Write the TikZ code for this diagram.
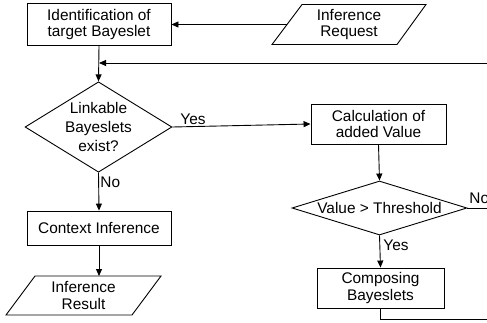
\documentclass[tikz,border=0pt]{standalone}
\usepackage{fontspec}
\setmainfont{Liberation Sans}
\usetikzlibrary{arrows.meta,shapes.geometric}
\begin{document}
\begin{tikzpicture}[x=1pt,y=-1pt,
  font=\fontsize{15.4}{16.7}\selectfont,
  line width=0.9pt,
  box/.style={draw, rectangle, align=center, inner sep=0pt},
  dia/.style={draw, diamond, align=center, inner sep=0pt},
  txt/.style={align=center, inner sep=0pt},
  arr/.style={-{Triangle[length=7pt,width=6pt]}},
  lbl/.style={inner sep=0pt, anchor=west}]
\clip (0,0) rectangle (487,322);
\fill[white] (0,0) rectangle (487,322);
% top row
\node[box, minimum width=144pt, minimum height=42pt] (ident) at (99,24.5) {Identification of\\target Bayeslet};
\node[txt] (req) at (349,24.5) {Inference\\Request};
\draw (302,4.5) -- (426,4.5) -- (397,44.5) -- (272,44.5) -- cycle;
\coordinate (reqin) at (287,24.5);
\draw[arr] (reqin) -- (ident.east);
% feedback line
\coordinate (fbR) at (495,63);
\coordinate (fbL) at (99,63);
\draw[arr] (fbR) -- (fbL);
% first decision
\node[dia, minimum width=143pt, minimum height=88pt, aspect=1.625,
      font=\fontsize{15.4}{19}\selectfont] (d1) at (98.5,127) {Linkable\\Bayeslets\\exist?};
\draw[arr] (ident.south) -- (d1.north);
\node[box, minimum width=135pt, minimum height=40pt] (calc) at (378.5,124) {Calculation of\\added Value};
\node[lbl] (yes1) at (180,119) {Yes};
\draw[arr] (d1.east) -- (calc.west);
% second decision
\node[dia, minimum width=175pt, minimum height=54pt, aspect=3.24] (d2) at (379.5,208) {Value > Threshold};
\draw[arr] (calc.south) -- (d2.north);
\node[lbl] (no2) at (469,198) {No};
\coordinate (nR) at (495,208);
\draw (d2.east) -- (nR);
\node[box, minimum width=127pt, minimum height=40pt] (comp) at (380.5,288) {Composing\\Bayeslets};
\node[lbl] (yes2) at (383,245) {Yes};
\draw[arr] (d2.south) -- (comp.north);
\coordinate (cR) at (495,319);
\draw (comp.south) |- (cR);
% left branch
\node[box, minimum width=144pt, minimum height=34pt] (ctx) at (99,228) {Context Inference};
\node[lbl] (no1) at (100,182) {No};
\draw[arr] (d1.south) -- (ctx.north);
\node[txt] (res) at (83.5,295.5) {Inference\\Result};
\draw (35,276) -- (161,276) -- (132,315) -- (6,315) -- cycle;
\coordinate (resin) at (99,276);
\draw[arr] (ctx.south) -- (resin);
\end{tikzpicture}
\end{document}
